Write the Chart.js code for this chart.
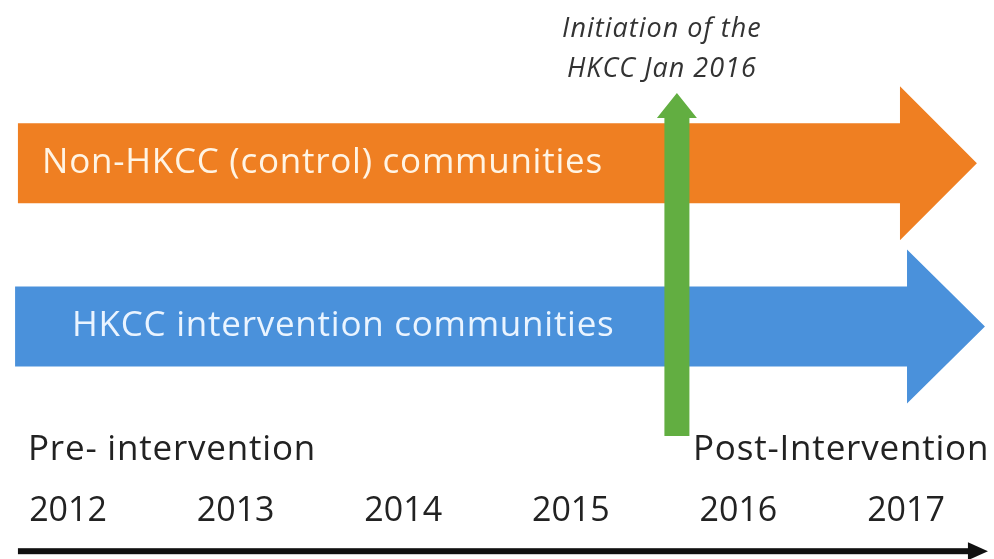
<!DOCTYPE html>
<html>
<head>
<meta charset="utf-8">
<script src="https://cdn.jsdelivr.net/npm/chart.js@4.4.1/dist/chart.umd.min.js"></script>
<style>
  html,body{ margin:0; padding:0; background:#fff; }
  #wrap{ width:994px; height:559px; position:relative; }
</style>
</head>
<body>
<div id="wrap"><canvas id="c"></canvas></div>
<script>
// timeline data (x in years, y in lane units)
const years = [2012, 2013, 2014, 2015, 2016, 2017];
const lanes = ['Non-HKCC (control) communities', 'HKCC intervention communities'];
const laneRow = [1.98, 0.96];
const laneStart = [2011.701, 2011.684];
const laneHeadBase = [2016.964, 2017.006];
const laneTip = [2017.423, 2017.471];
const laneTextStart = [2011.845, 2012.024];
const laneColors = ['#EF7F22', '#4A91DB'];
const laneTextColors = ['#FFF4E4', '#EAF4FF'];

const interventionAt = 2015.633;
const interventionFrom = 0.275;
const interventionTo = 2.419;
const interventionNote = ['Initiation of the', 'HKCC Jan 2016'];

const phases = ['Pre- intervention', 'Post-Intervention'];
const phaseStart = [2011.761, 2015.729];
const phaseRow = 0.19;

const timelineFrom = 2011.701, timelineTo = 2017.489, timelineRow = -0.445;

const xMin = 2011.594, xMax = 2017.525;
const FONT = '"Open Sans"';

function el(sel){ return document.querySelector(sel); }

const arrowsPlugin = {
  id: 'arrows',
  afterDatasetsDraw(chart){
    const ctx = chart.ctx, xs = chart.scales.x, ys = chart.scales.y;
    const px = v => xs.getPixelForValue(v), py = v => ys.getPixelForValue(v);
    ctx.save();
    // lane arrows
    lanes.forEach((name, i) => {
      const yc = py(laneRow[i]);
      ctx.fillStyle = laneColors[i];
      ctx.beginPath();
      ctx.moveTo(px(laneStart[i]), yc - 40);
      ctx.lineTo(px(laneHeadBase[i]), yc - 40);
      ctx.lineTo(px(laneHeadBase[i]), yc - 77);
      ctx.lineTo(px(laneTip[i]), yc);
      ctx.lineTo(px(laneHeadBase[i]), yc + 77);
      ctx.lineTo(px(laneHeadBase[i]), yc + 40);
      ctx.lineTo(px(laneStart[i]), yc + 40);
      ctx.closePath();
      ctx.fill();
      ctx.fillStyle = laneTextColors[i];
      ctx.font = '35px ' + FONT;
      ctx.letterSpacing = '0.75px';
      ctx.textBaseline = 'middle';
      ctx.textAlign = 'left';
      ctx.fillText(name, px(laneTextStart[i]), yc);
    });
    // intervention arrow
    const gx = px(interventionAt), gTop = py(interventionTo), gBot = py(interventionFrom);
    ctx.fillStyle = '#62AE41';
    ctx.beginPath();
    ctx.moveTo(gx - 12.5, gBot);
    ctx.lineTo(gx - 12.5, gTop + 25);
    ctx.lineTo(gx - 20, gTop + 25);
    ctx.lineTo(gx, gTop);
    ctx.lineTo(gx + 20, gTop + 25);
    ctx.lineTo(gx + 12.5, gTop + 25);
    ctx.lineTo(gx + 12.5, gBot);
    ctx.closePath();
    ctx.fill();
    ctx.fillStyle = '#333';
    ctx.font = 'italic 27px ' + FONT;
    ctx.letterSpacing = '1px';
    ctx.textAlign = 'center';
    ctx.textBaseline = 'middle';
    ctx.fillText(interventionNote[0], gx - 15, gTop - 64);
    ctx.fillText(interventionNote[1], gx - 15, gTop - 24);
    // phase labels
    ctx.fillStyle = '#222';
    ctx.font = '35px ' + FONT;
    ctx.letterSpacing = '0.8px';
    ctx.textAlign = 'left';
    phases.forEach((p, i) => ctx.fillText(p, px(phaseStart[i]), py(phaseRow)));
    ctx.letterSpacing = '0px';
    // timeline arrow
    const ty = py(timelineRow), tx0 = px(timelineFrom), tx1 = px(timelineTo);
    ctx.fillStyle = '#111';
    ctx.fillRect(tx0, ty - 3, tx1 - 18 - tx0, 6);
    ctx.beginPath();
    ctx.moveTo(tx1 - 20, ty - 9);
    ctx.lineTo(tx1, ty);
    ctx.lineTo(tx1 - 20, ty + 9);
    ctx.closePath();
    ctx.fill();
    ctx.restore();
  }
};

new Chart(el('#c').getContext('2d'), {
  type: 'scatter',
  data: { datasets: [] },
  options: {
    responsive: true, maintainAspectRatio: false, animation: false, devicePixelRatio: 1,
    layout: { padding: 0 },
    plugins: { legend: { display: false }, tooltip: { enabled: false } },
    scales: {
      x: {
        type: 'linear', min: xMin, max: xMax,
        grid: { display: false }, border: { display: false },
        afterBuildTicks: s => { s.ticks = years.map(v => ({ value: v })); },
        afterFit: s => { s.height = 79; },
        ticks: { autoSkip: false, maxRotation: 0, padding: 3, color: '#222', font: { family: 'Open Sans', size: 34 }, callback: v => String(v) }
      },
      y: { type: 'linear', min: 0, max: 3, display: false }
    }
  },
  plugins: [arrowsPlugin]
});
</script>
</body>
</html>
